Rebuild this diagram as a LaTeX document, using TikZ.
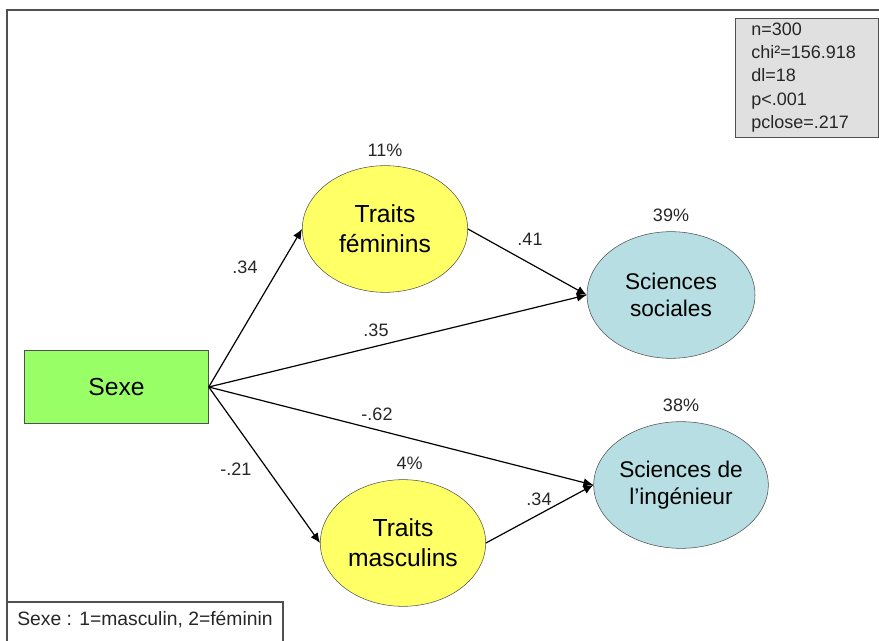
\documentclass[tikz,border=0pt]{standalone}
\usepackage{fontspec}
\setmainfont{Liberation Sans}
\usetikzlibrary{positioning,arrows.meta,shapes.geometric}
\definecolor{sexegreen}{RGB}{153,255,102}
\definecolor{traityellow}{RGB}{255,255,102}
\definecolor{scienceblue}{RGB}{183,222,226}
\definecolor{statgray}{RGB}{224,224,224}
\definecolor{edgegray}{RGB}{80,80,80}
\tikzset{
obsbox/.style={
draw=edgegray,
fill=sexegreen,
minimum width=138pt,
minimum height=55pt,
font=\fontsize{18.5}{22}\selectfont
},
trait/.style={
ellipse,
draw=edgegray,
fill=traityellow,
minimum width=124pt,
minimum height=95pt,
inner sep=0pt,
align=center,
font=\fontsize{18.5}{22.5}\selectfont
},
science/.style={
ellipse,
draw=edgegray,
fill=scienceblue,
minimum width=126pt,
minimum height=95pt,
inner sep=0pt,
align=center,
font=\fontsize{17}{20}\selectfont
},
coef/.style={
text=black!85,
font=\fontsize{13.5}{16}\selectfont
},
pct/.style={
text=black!85,
font=\fontsize{13.5}{16}\selectfont
},
statbox/.style={
draw=edgegray,
fill=statgray,
text=black!85,
text width=83pt,
inner xsep=12pt,
minimum height=84pt,
align=left,
font=\fontsize{13.5}{17.5}\selectfont
},
arrow/.style={
-{Latex[length=7.5pt,width=6.5pt]},
line width=0.9pt
}
}
\begin{document}
\begin{tikzpicture}[x=0.75pt,y=-0.75pt]
\path[use as bounding box,clip] (0,0) rectangle (879,641);
\draw[edgegray,line width=1pt] (7,700) -- (7,10) -- (900,10);

\node[obsbox](sexe) at (116.5,387){Sexe};
\node[trait](tf) at (385,229){Traits\\féminins};
\node[trait](tm) at (403,543){Traits\\masculins};
\node[science](ss) at (671,295){Sciences\\sociales};
\node[science](si) at (681,485){Sciences de\\l’ingénieur};

% variance expliquee
\node[pct,above=3pt of tf](ptf){11\%};
\node[pct,above=4pt of ss](pss){39\%};
\node[pct,above=4pt of si](psi){38\%};
\node[pct,above=4pt of tm,xshift=5pt](ptm){4\%};

\foreach \x/\y in {sexe.east/tf.west,sexe.east/ss.west,sexe.east/si.west,sexe.east/tm.west,tf.east/ss.west,tm.east/si.west}
\draw[arrow](\x)--(\y);

\node[coef](c1) at (245,267){.34};
\node[coef](c2) at (376,330){.35};
\node[coef](c3) at (377,414){-.62};
\node[coef](c4) at (236,469){-.21};
\node[coef](c5) at (530,239){.41};
\node[coef](c6) at (539,499){.34};

\node[statbox,anchor=north west](fit) at (735,18){n=300\\chi²=156.918\\dl=18\\p<.001\\pclose=.217};

\draw[edgegray,line width=0.8pt] (7,602) rectangle (283,700);
\node[coef,font=\fontsize{14.5}{17}\selectfont](legend) at (145,620){Sexe : 1=masculin, 2=féminin};
\end{tikzpicture}
\end{document}
